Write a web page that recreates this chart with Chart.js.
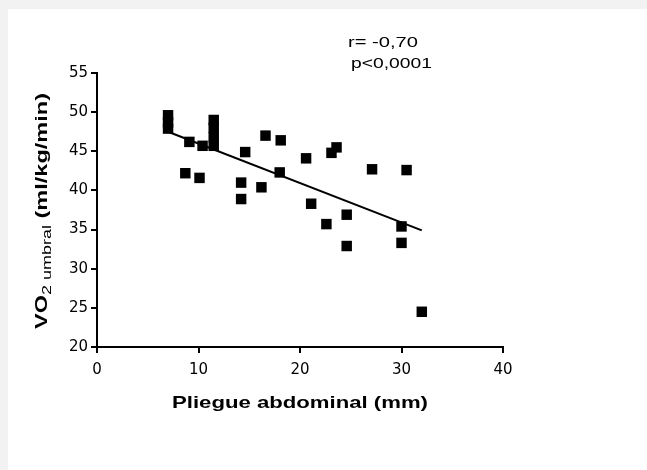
<!DOCTYPE html>
<html>
<head>
<meta charset="utf-8">
<script src="https://cdn.jsdelivr.net/npm/chart.js@4/dist/chart.umd.min.js"></script>
<style>
  body { margin: 0; background: #f2f2f2; }
  #wrap { position: absolute; left: 0; top: 0; width: 647px; height: 470px; }
</style>
</head>
<body>
<div id="wrap"><canvas id="chart" width="647" height="470"></canvas></div>
<script>
// pliegue abdominal (mm)
const pliegue = [7, 7, 7, 8.7, 9.1, 10.1, 10.4, 11.5, 11.5, 11.5, 11.5, 14.2, 14.2, 14.6, 16.2,
    16.6, 18.0, 18.1, 20.6, 21.1, 22.6, 23.1, 23.6, 24.6, 24.6, 27.1, 30.0, 30.0, 30.5, 32.0];
// VO2 umbral (ml/kg/min)
const vo2 = [49.6, 48.7, 47.9, 42.2, 46.2, 41.6, 45.7, 49.0, 48.0, 46.8, 45.7, 41.0, 38.9, 44.9, 40.4,
    47.0, 42.3, 46.4, 44.1, 38.3, 35.7, 44.8, 45.5, 36.9, 32.9, 42.7, 35.4, 33.3, 42.6, 24.5];
// regression line ends
const fitX = [7, 32];
const fitY = [47.5, 34.9];

const xTicks = [0, 10, 20, 30, 40];
const yTicks = [20, 25, 30, 35, 40, 45, 50, 55];
const statsText = ['r= -0,70', 'p<0,0001'];

function stretchText(ctx, text, x, y, font, targetW, align) {
    ctx.font = font;
    const w = ctx.measureText(text).width;
    ctx.save();
    ctx.translate(x, y);
    ctx.scale(targetW / w, 1);
    ctx.textAlign = align;
    ctx.fillText(text, 0, 0);
    ctx.restore();
}

const decor = {
    id: 'decor',
    beforeDraw(chart) {
        const ctx = chart.ctx;
        ctx.save();
        ctx.fillStyle = '#f2f2f2';
        ctx.fillRect(0, 0, chart.width, chart.height);
        ctx.fillStyle = '#ffffff';
        ctx.fillRect(8, 9, chart.width - 8, chart.height - 9);
        ctx.restore();
    },
    afterDraw(chart) {
        const ctx = chart.ctx;
        ctx.save();
        ctx.fillStyle = '#000';
        ctx.textBaseline = 'alphabetic';

        // stats
        stretchText(ctx, statsText[0], 348, 47, '14px "Liberation Sans"', 70, 'left');
        stretchText(ctx, statsText[1], 351, 68, '14px "Liberation Sans"', 81, 'left');

        // x title
        stretchText(ctx, 'Pliegue abdominal (mm)', 300, 408, 'bold 17px "Liberation Sans"', 256, 'center');

        // y title, rotated, with subscript
        const parts = [
            { t: 'VO', f: 'bold 17px "Liberation Sans"', dy: 0 },
            { t: '2 umbral', f: '13px "Liberation Sans"', dy: 4 },
            { t: ' (ml/kg/min)', f: 'bold 17px "Liberation Sans"', dy: 0 }
        ];
        let total = 0;
        parts.forEach(p => { ctx.font = p.f; p.w = ctx.measureText(p.t).width; total += p.w; });
        const target = 236;
        const s = target / total;
        ctx.translate(47, 211);
        ctx.rotate(-Math.PI / 2);
        ctx.scale(s, 1);
        let cx = -total / 2;
        ctx.textAlign = 'left';
        parts.forEach(p => {
            ctx.font = p.f;
            ctx.fillText(p.t, cx, p.dy);
            cx += p.w;
        });
        ctx.restore();
    }
};

const points = pliegue.map((x, i) => ({ x: x, y: vo2[i] }));
const fitLine = fitX.map((x, i) => ({ x: x, y: fitY[i] }));

new Chart(document.getElementById('chart'), {
    type: 'scatter',
    data: {
        datasets: [{
            data: points,
            pointStyle: 'rect',
            pointRadius: 7.4,
            borderWidth: 0,
            backgroundColor: '#000'
        }, {
            type: 'line',
            data: fitLine,
            borderColor: '#000',
            borderWidth: 2,
            pointRadius: 0,
            fill: false
        }]
    },
    options: {
        responsive: false,
        animation: false,
        layout: { padding: { top: 73, right: 144, left: 0, bottom: 0 } },
        plugins: {
            legend: { display: false },
            tooltip: { enabled: false }
        },
        scales: {
            x: {
                type: 'linear',
                min: 0,
                max: 40,
                afterFit(scale) { scale.height = 123; },
                afterBuildTicks(scale) { scale.ticks = xTicks.map(v => ({ value: v })); },
                border: { color: '#000', width: 2 },
                grid: { drawOnChartArea: false, drawTicks: true, tickLength: 6, color: '#000', lineWidth: 2 },
                ticks: {
                    color: '#000',
                    padding: 8,
                    font: { family: 'DejaVu Sans', size: 15 }
                }
            },
            y: {
                type: 'linear',
                min: 20,
                max: 55,
                afterFit(scale) { scale.width = 97; },
                afterBuildTicks(scale) { scale.ticks = yTicks.map(v => ({ value: v })); },
                border: { color: '#000', width: 2 },
                grid: { drawOnChartArea: false, drawTicks: true, tickLength: 6, color: '#000', lineWidth: 2 },
                ticks: {
                    color: '#000',
                    padding: 3,
                    font: { family: 'DejaVu Sans', size: 15 }
                }
            }
        }
    },
    plugins: [decor]
});
</script>
</body>
</html>
